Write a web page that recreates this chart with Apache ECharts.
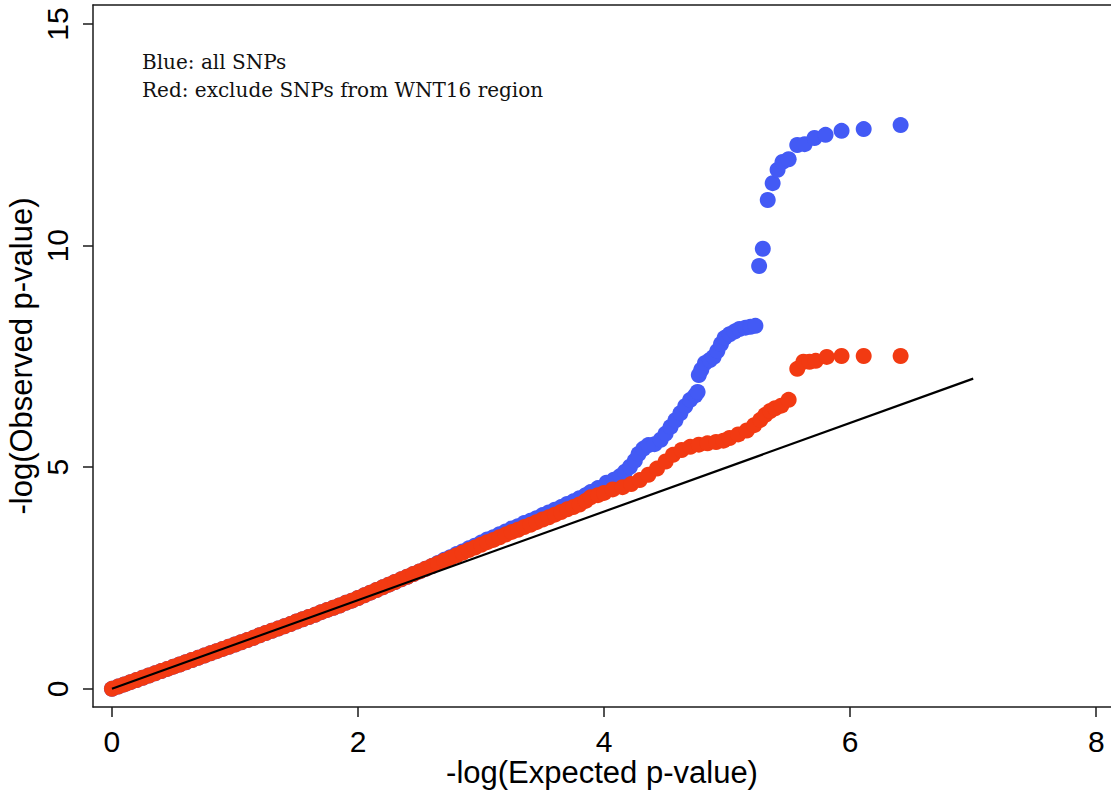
<!DOCTYPE html>
<html>
<head>
<meta charset="utf-8">
<title>QQ plot</title>
<script src="https://cdn.jsdelivr.net/npm/echarts@6/dist/echarts.min.js"></script>
<style>
  html, body { margin: 0; padding: 0; background: #ffffff; }
  #chart { width: 1111px; height: 793px; }
</style>
</head>
<body>
<div id="chart"></div>
<script>
// Tick values shown on each axis
const xTicks = [0, 2, 4, 6, 8];
const yTicks = [0, 5, 10, 15];

// [-log10(expected p), -log10(observed p)] for all SNPs
const allSnps = [
  [0.00,0.00],[0.05,0.05],[0.10,0.10],[0.15,0.15],[0.20,0.20],[0.25,0.25],[0.30,0.30],[0.35,0.35],
  [0.40,0.40],[0.45,0.45],[0.50,0.50],[0.55,0.55],[0.60,0.60],[0.65,0.65],[0.70,0.70],[0.75,0.75],
  [0.80,0.80],[0.85,0.85],[0.90,0.90],[0.95,0.95],[1.00,1.00],[1.05,1.05],[1.10,1.10],[1.15,1.15],
  [1.20,1.21],[1.25,1.26],[1.30,1.31],[1.35,1.36],[1.40,1.41],[1.45,1.46],[1.50,1.52],[1.55,1.57],
  [1.60,1.62],[1.65,1.67],[1.70,1.73],[1.75,1.78],[1.80,1.83],[1.85,1.88],[1.90,1.94],[1.95,1.99],
  [2.00,2.05],[2.05,2.11],[2.10,2.17],[2.15,2.23],[2.20,2.29],[2.25,2.35],[2.30,2.41],[2.35,2.47],
  [2.40,2.53],[2.45,2.59],[2.50,2.65],[2.55,2.71],[2.60,2.77],[2.65,2.84],[2.70,2.91],[2.75,2.97],
  [2.80,3.04],[2.85,3.10],[2.90,3.17],[2.95,3.23],[3.00,3.30],[3.05,3.37],[3.10,3.42],[3.15,3.49],
  [3.20,3.55],[3.25,3.62],[3.30,3.67],[3.35,3.74],[3.40,3.79],[3.45,3.85],[3.50,3.92],[3.55,3.98],
  [3.60,4.04],[3.65,4.10],[3.70,4.17],[3.75,4.23],[3.80,4.30],[3.85,4.37],[3.89,4.44],[3.95,4.53],
  [4.02,4.65],[4.08,4.72],[4.13,4.80],[4.17,4.90],[4.21,5.01],[4.25,5.15],[4.28,5.30],[4.32,5.42],
  [4.36,5.50],[4.41,5.52],[4.46,5.62],[4.50,5.76],[4.54,5.91],[4.58,6.06],[4.62,6.22],[4.66,6.38],
  [4.70,6.52],[4.74,6.62],[4.76,6.70],[4.77,7.08],[4.79,7.20],[4.82,7.35],[4.86,7.42],[4.89,7.49],
  [4.92,7.62],[4.95,7.78],[4.98,7.92],[5.02,8.00],[5.06,8.06],[5.10,8.12],[5.15,8.15],[5.19,8.17],
  [5.23,8.19],[5.26,9.54],[5.29,9.93],[5.33,11.03],[5.37,11.41],[5.41,11.71],[5.45,11.89],[5.50,11.95],
  [5.57,12.27],[5.63,12.29],[5.71,12.43],[5.80,12.50],[5.93,12.59],[6.11,12.63],[6.41,12.72]
];

// Same statistic with SNPs from the WNT16 region left out
const excludeWnt16 = [
  [0.00,0.00],[0.05,0.05],[0.10,0.10],[0.15,0.15],[0.20,0.20],[0.25,0.25],[0.30,0.30],[0.35,0.35],
  [0.40,0.40],[0.45,0.45],[0.50,0.50],[0.55,0.55],[0.60,0.60],[0.65,0.65],[0.70,0.70],[0.75,0.75],
  [0.80,0.80],[0.85,0.85],[0.90,0.90],[0.95,0.95],[1.00,1.00],[1.05,1.05],[1.10,1.10],[1.15,1.15],
  [1.20,1.21],[1.25,1.26],[1.30,1.31],[1.35,1.36],[1.40,1.41],[1.45,1.46],[1.50,1.52],[1.55,1.57],
  [1.60,1.62],[1.65,1.67],[1.70,1.73],[1.75,1.78],[1.80,1.83],[1.85,1.88],[1.90,1.94],[1.95,1.99],
  [2.00,2.05],[2.05,2.11],[2.10,2.17],[2.15,2.23],[2.20,2.29],[2.25,2.35],[2.30,2.41],[2.35,2.47],
  [2.40,2.53],[2.45,2.59],[2.50,2.65],[2.55,2.71],[2.60,2.77],[2.65,2.83],[2.70,2.89],[2.75,2.95],
  [2.80,3.01],[2.85,3.07],[2.90,3.13],[2.95,3.19],[3.00,3.25],[3.05,3.31],[3.10,3.36],[3.15,3.42],
  [3.20,3.48],[3.25,3.54],[3.30,3.59],[3.35,3.65],[3.40,3.70],[3.45,3.76],[3.50,3.82],[3.55,3.87],
  [3.60,3.93],[3.65,3.99],[3.70,4.05],[3.75,4.10],[3.80,4.16],[3.85,4.24],[3.89,4.32],[3.95,4.37],
  [4.00,4.42],[4.07,4.50],[4.15,4.55],[4.22,4.62],[4.29,4.71],[4.36,4.83],[4.43,4.97],[4.50,5.13],
  [4.56,5.28],[4.63,5.39],[4.70,5.46],[4.77,5.51],[4.84,5.54],[4.91,5.57],[4.97,5.60],[5.02,5.66],
  [5.09,5.74],[5.16,5.83],[5.22,5.95],[5.27,6.07],[5.31,6.18],[5.35,6.27],[5.39,6.33],[5.44,6.39],
  [5.50,6.52],[5.57,7.22],[5.62,7.38],[5.67,7.38],[5.72,7.40],[5.81,7.49],[5.93,7.51],[6.11,7.51],
  [6.41,7.51]
];

// Null expectation: observed = expected
const expectedLine = [[0, 0], [7, 7]];

const noteLines = ['Blue: all SNPs', 'Red: exclude SNPs from WNT16 region'];

const axisFont = 'Liberation Sans, Arial, Helvetica, sans-serif';
const axisColor = '#1a1a1a';

const chart = echarts.init(document.getElementById('chart'), null, { renderer: 'svg' });

chart.setOption({
  animation: false,
  backgroundColor: '#ffffff',
  title: {
    text: noteLines.join('\n'),
    left: 137,
    top: 43,
    textStyle: {
      fontFamily: 'DejaVu Serif, Liberation Serif, serif',
      fontSize: 20,
      fontWeight: 'normal',
      color: '#111111',
      lineHeight: 28
    }
  },
  grid: {
    left: 93,
    right: 0,
    top: 5,
    bottom: 86,
    containLabel: false,
    outerBoundsMode: 'none'
  },
  xAxis: [
    {
      type: 'value',
      min: -0.154,
      max: 8.12,
      name: '-log(Expected p-value)',
      nameLocation: 'middle',
      nameGap: 48,
      nameMoveOverlap: false,
      nameTextStyle: { fontFamily: axisFont, fontSize: 31, lineHeight: 34, color: '#000' },
      axisLine: { show: true, onZero: false, lineStyle: { color: axisColor, width: 1.5 } },
      axisTick: { show: true, length: 10, customValues: xTicks, lineStyle: { color: axisColor, width: 1.5 } },
      axisLabel: { customValues: xTicks, margin: 19, fontFamily: axisFont, fontSize: 30, color: '#000' },
      splitLine: { show: false }
    },
    {
      type: 'value',
      position: 'top',
      min: -0.154,
      max: 8.12,
      axisLine: { show: true, onZero: false, lineStyle: { color: axisColor, width: 1.5 } },
      axisTick: { show: false },
      axisLabel: { show: false },
      splitLine: { show: false }
    }
  ],
  yAxis: {
    type: 'value',
    min: -0.41,
    max: 15.43,
    name: '-log(Observed p-value)',
    nameLocation: 'middle',
    nameGap: 55,
    nameMoveOverlap: false,
    nameRotate: 90,
    nameTextStyle: { fontFamily: axisFont, fontSize: 31, lineHeight: 34, color: '#000' },
    axisLine: { show: true, onZero: false, lineStyle: { color: axisColor, width: 1.5 } },
    axisTick: { show: true, length: 10, customValues: yTicks, lineStyle: { color: axisColor, width: 1.5 } },
    axisLabel: { customValues: yTicks, rotate: 90, margin: 21, fontFamily: axisFont, fontSize: 30, color: '#000' },
    splitLine: { show: false }
  },
  series: [
    {
      name: 'All SNPs',
      type: 'scatter',
      data: allSnps,
      symbol: 'circle',
      symbolSize: 16,
      itemStyle: { color: '#435AF5', opacity: 1 },
      z: 2
    },
    {
      name: 'Excluding WNT16 region',
      type: 'scatter',
      data: excludeWnt16,
      symbol: 'circle',
      symbolSize: 16,
      itemStyle: { color: '#F23A12', opacity: 1 },
      z: 3
    },
    {
      name: 'Expected',
      type: 'line',
      data: expectedLine,
      symbol: 'none',
      lineStyle: { color: '#000000', width: 2.2 },
      z: 4
    }
  ]
});
</script>
</body>
</html>
